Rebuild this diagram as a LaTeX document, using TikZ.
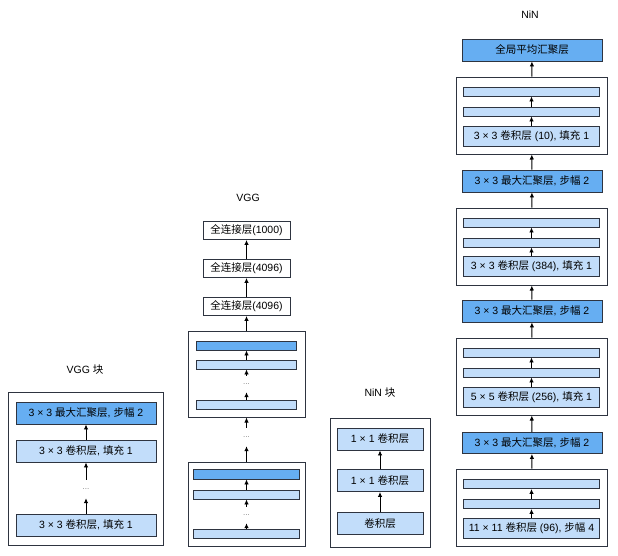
\documentclass[tikz,border=0pt]{standalone}
\usepackage{fontspec}
\setmainfont{Liberation Sans}
\newfontfamily\cjk{Noto Sans CJK SC}
\usepackage{tikz}
\usetikzlibrary{arrows.meta}
\usetikzlibrary{positioning}
\usepackage{xcolor}
\definecolor{pooldark}{HTML}{66AEF2}
\definecolor{convlight}{HTML}{C2DDFA}
\definecolor{edge}{HTML}{2E3440}

\newcommand{\zh}[1]{{\cjk #1}}

\tikzset{
  layer/.style={draw=edge, line width=.9pt, minimum height=22pt, inner sep=0pt, font=\fontsize{10.5}{12}\selectfont},
  pool/.style={layer, fill=pooldark},
  conv/.style={layer, fill=convlight},
  fc/.style={layer, fill=white, minimum width=87pt, minimum height=18pt},
  bar/.style={draw=edge, line width=.9pt, fill=convlight, minimum height=9pt, inner sep=0pt},
  darkbar/.style={bar, fill=pooldark},
  blk/.style={draw=edge, line width=1pt, fill=white, inner sep=0pt},
  dotsnode/.style={inner sep=0pt, minimum height=18pt, text=gray, font=\fontsize{8}{8}\selectfont},
  title/.style={font=\fontsize{10.5}{12}\selectfont},
  flow/.style={->, line width=.9pt},
  >={Latex[length=5pt,width=4.5pt]}
}

\begin{document}
\begin{tikzpicture}[x=1pt, y=-1pt]
       \useasboundingbox (0,0) rectangle (618,555);

       % VGG block
       \node[title] (vggblktitle) at (85, 370) {VGG \zh{块}};
       \node[blk, minimum width=155pt, minimum height=153pt] (vggblk) at (85.5, 468.5) {};
       \node[pool, minimum width=140pt] (vbpool) at (86, 413) {3 × 3 \zh{最大汇聚层}, \zh{步幅} 2};
       \node[conv, minimum width=140pt] (vbconvb) at (86, 451) {3 × 3 \zh{卷积层}, \zh{填充} 1};
       \node[dotsnode] (vbdots) at (86, 489) {...};
       \node[conv, minimum width=140pt] (vbconva) at (86, 525) {3 × 3 \zh{卷积层}, \zh{填充} 1};
       \draw[flow] (vbconvb) -- (vbpool);
       \draw[flow] (vbdots) -- (vbconvb);
       \draw[flow] (vbconva) -- (vbdots);

       % VGG
       \node[title] (vggtitle) at (248, 198) {VGG};
       \node[fc] (fcc) at (246.5, 230.5) {\zh{全连接层}(1000)};
       \node[fc] (fcb) at (246.5, 268.5) {\zh{全连接层}(4096)};
       \node[fc] (fca) at (246.5, 306.5) {\zh{全连接层}(4096)};
       \node[blk, minimum width=117pt, minimum height=86pt] (vblkb) at (246.5, 374) {};
       \node[darkbar, minimum width=100pt] (vbbpool) at (246.5, 345.5) {};
       \node[bar, minimum width=100pt] (vbbconvb) at (246.5, 364.5) {};
       \node[dotsnode, minimum height=16pt] (vbbdots) at (246.5, 384) {...};
       \node[bar, minimum width=100pt] (vbbconva) at (246.5, 404.5) {};
       \node[dotsnode] (vdots) at (246.5, 437) {...};
       \node[blk, minimum width=117pt, minimum height=84pt] (vblka) at (246.5, 504) {};
       \node[darkbar, minimum width=106pt, minimum height=10pt] (vbapool) at (246.5, 474) {};
       \node[bar, minimum width=106pt] (vbaconvb) at (246.5, 494.5) {};
       \node[dotsnode, minimum height=16pt] (vbadots) at (246.5, 515) {...};
       \node[bar, minimum width=106pt] (vbaconva) at (246.5, 533.5) {};
       \draw[flow] (fcb) -- (fcc);
       \draw[flow] (fca) -- (fcb);
       \draw[flow] (vblkb) -- (fca);
       \draw[flow] (vbbconvb) -- (vbbpool);
       \draw[flow] (vbbdots) -- (vbbconvb);
       \draw[flow] (vbbconva) -- (vbbdots);
       \draw[flow] (vdots) -- (vblkb);
       \draw[flow] (vblka) -- (vdots);
       \draw[flow] (vbaconvb) -- (vbapool);
       \draw[flow] (vbadots) -- (vbaconvb);
       \draw[flow] (vbaconva) -- (vbadots);

       % NiN block
       \node[title] (ninblktitle) at (380, 393) {NiN \zh{块}};
       \node[blk, minimum width=100pt, minimum height=129pt] (ninblk) at (380, 482.5) {};
       \node[conv, minimum width=86pt] (nbconvc) at (380, 439) {1 × 1 \zh{卷积层}};
       \node[conv, minimum width=86pt] (nbconvb) at (380, 480.5) {1 × 1 \zh{卷积层}};
       \node[conv, minimum width=86pt] (nbconva) at (380, 523.5) {\zh{卷积层}};
       \draw[flow] (nbconvb) -- (nbconvc);
       \draw[flow] (nbconva) -- (nbconvb);

       % NiN
       \node[title] (nintitle) at (530, 15) {NiN};
       \node[pool, minimum width=140pt] (gap) at (532, 50) {\zh{全局平均汇聚层}};
       \node[blk, minimum width=151pt, minimum height=77pt] (nblkd) at (531.5, 115.5) {};
       \node[bar, minimum width=136pt] (nbdc) at (531.5, 91.5) {};
       \node[bar, minimum width=136pt] (nbdb) at (531.5, 111.5) {};
       \node[conv, minimum width=136pt, minimum height=20pt] (nbda) at (531.5, 136) {3 × 3 \zh{卷积层} (10), \zh{填充} 1};
       \node[pool, minimum width=140pt] (npoolc) at (532, 181) {3 × 3 \zh{最大汇聚层}, \zh{步幅} 2};
       \node[blk, minimum width=151pt, minimum height=77pt] (nblkc) at (531.5, 246.5) {};
       \node[bar, minimum width=136pt] (nbcc) at (531.5, 222.5) {};
       \node[bar, minimum width=136pt] (nbcb) at (531.5, 242.5) {};
       \node[conv, minimum width=136pt, minimum height=20pt] (nbca) at (531.5, 266.5) {3 × 3 \zh{卷积层} (384), \zh{填充} 1};
       \node[pool, minimum width=140pt] (npoolb) at (532, 311) {3 × 3 \zh{最大汇聚层}, \zh{步幅} 2};
       \node[blk, minimum width=151pt, minimum height=77pt] (nblkb) at (531.5, 376.5) {};
       \node[bar, minimum width=136pt] (nbbc) at (531.5, 352.5) {};
       \node[bar, minimum width=136pt] (nbbb) at (531.5, 372.5) {};
       \node[conv, minimum width=136pt, minimum height=20pt] (nbba) at (531.5, 397.5) {5 × 5 \zh{卷积层} (256), \zh{填充} 1};
       \node[pool, minimum width=140pt, minimum height=21pt] (npoola) at (532, 443) {3 × 3 \zh{最大汇聚层}, \zh{步幅} 2};
       \node[blk, minimum width=151pt, minimum height=77pt] (nblka) at (531.5, 507.5) {};
       \node[bar, minimum width=136pt] (nbac) at (531.5, 484) {};
       \node[bar, minimum width=136pt] (nbab) at (531.5, 504) {};
       \node[conv, minimum width=136pt, minimum height=20pt] (nbaa) at (531.5, 528) {11 × 11 \zh{卷积层} (96), \zh{步幅} 4};
       \draw[flow] (nblkd) -- (gap);
       \draw[flow] (nbdb) -- (nbdc);
       \draw[flow] (nbda) -- (nbdb);
       \draw[flow] (npoolc) -- (nblkd);
       \draw[flow] (nblkc) -- (npoolc);
       \draw[flow] (nbcb) -- (nbcc);
       \draw[flow] (nbca) -- (nbcb);
       \draw[flow] (npoolb) -- (nblkc);
       \draw[flow] (nblkb) -- (npoolb);
       \draw[flow] (nbbb) -- (nbbc);
       \draw[flow] (nbba) -- (nbbb);
       \draw[flow] (npoola) -- (nblkb);
       \draw[flow] (nblka) -- (npoola);
       \draw[flow] (nbab) -- (nbac);
       \draw[flow] (nbaa) -- (nbab);
\end{tikzpicture}
\end{document}
